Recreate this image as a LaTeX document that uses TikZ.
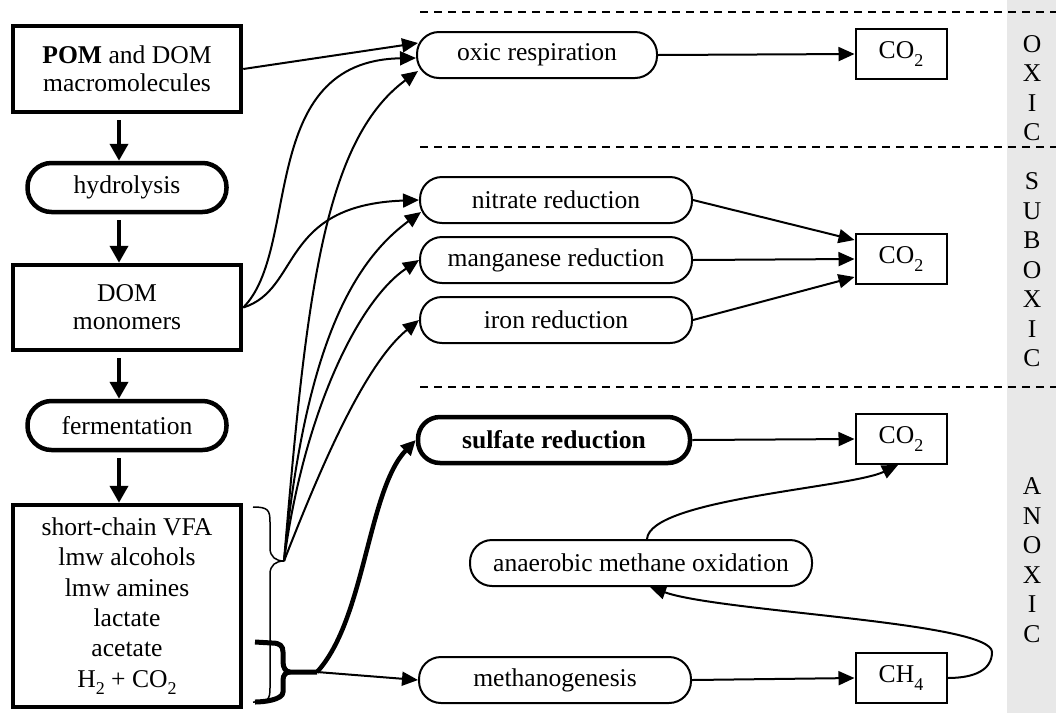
\documentclass[tikz,border=0pt]{standalone}
\usepackage{fontspec}
\setmainfont{Liberation Serif}
\usetikzlibrary{arrows.meta,calc}
\definecolor{bandgray}{HTML}{E8E8E8}
\newcommand{\lowsub}[1]{\raisebox{-0.28em}{\fontsize{18}{18}\selectfont #1}}

\begin{document}
\begin{tikzpicture}[
      x=1pt, y=-1pt,
      font=\fontsize{25.6}{28}\selectfont,
      pbox/.style={
        draw,
        line width=4.5pt,
        align=center,
        inner sep=0pt,
        minimum width=228pt
      },
      pproc/.style={
        draw,
        line width=4.5pt,
        rounded corners=24pt,
        inner sep=0pt,
        minimum width=199pt,
        minimum height=49pt
      },
      rproc/.style={
        draw,
        line width=2pt,
        rounded corners=22pt,
        inner sep=0pt,
        minimum width=272pt,
        minimum height=46pt
      },
      gas/.style={
        draw,
        line width=2pt,
        inner sep=0pt,
        minimum width=91pt,
        minimum height=50pt
      },
      zonelbl/.style={
        align=center,
        inner sep=0pt,
        font=\fontsize{25.6}{29.5}\selectfont
      },
      zoneline/.style={
        line width=1.5pt,
        dash pattern=on 8pt off 6pt
      },
      arr/.style={
        -{Triangle[length=16pt,width=14pt]},
        line width=2pt
      },
      bigarr/.style={
        -{Triangle[length=17pt,width=18pt]},
        line width=4pt,
        shorten <=6pt
      },
      sularr/.style={
        -{Triangle[length=15pt,width=14pt]},
        line width=4.5pt
      }
    ]

    \useasboundingbox (0,0) rectangle (1056,713);

    % redox zones
    \fill[bandgray] (1007,0) rectangle (1056,713);
    \draw[zoneline] (420,12) -- (1056,12);
    \draw[zoneline] (420,147) -- (1056,147);
    \draw[zoneline] (420,387) -- (1056,387);

    \node[zonelbl] (oxiclbl) at (1032,88) {O\\X\\I\\C};
    \node[zonelbl] (suboxlbl) at (1032,270) {S\\U\\B\\O\\X\\I\\C};
    \node[zonelbl] (anoxlbl) at (1032,560) {A\\N\\O\\X\\I\\C};

    % degradation chain
    \node[pbox, minimum height=86pt] (pom) at (127,69)
      {\textbf{POM} and DOM\\macromolecules};

    \node[pproc] (hydro) at (127,187.5) {hydrolysis};

    \node[pbox, minimum height=85pt] (dom) at (127,307.5)
      {DOM\\monomers};

    \node[pproc] (ferm) at (127,425.5) {fermentation};

    \node[pbox, minimum height=202pt,
          font=\fontsize{25.6}{30.4}\selectfont] (prod) at (127,606)
      {short-chain VFA\\lmw alcohols\\lmw amines\\lactate\\acetate\\
       H\lowsub{2} + CO\lowsub{2}};

    \foreach \a/\b in {pom/hydro, hydro/dom, dom/ferm, ferm/prod}
      \draw[bigarr] ([xshift=-8pt]\a.south) -- ([xshift=-8pt]\b.north);

    % terminal processes
    \node[rproc, minimum width=240pt] (oxic) at (537,55) {oxic respiration};
    \node[gas] (co2a) at (901,54) {CO\lowsub{2}};

    \node[rproc] (nitr) at (556,200) {nitrate reduction};
    \node[rproc] (mang) at (556,260) {manganese reduction};
    \node[rproc] (iron) at (556,320) {iron reduction};
    \node[gas] (co2b) at (901,259) {CO\lowsub{2}};

    \node[rproc, line width=4.5pt] (sulf) at (554,440)
      {\textbf{sulfate reduction}};
    \node[gas] (co2c) at (901,439) {CO\lowsub{2}};

    \node[rproc, minimum width=342pt] (anmo) at (641,563)
      {anaerobic methane oxidation};

    \node[rproc] (meth) at (555,680) {methanogenesis};
    \node[gas] (ch4) at (901,678) {CH\lowsub{4}};

    % braces
    \coordinate (fan) at (284,561);
    \coordinate (knot) at (317,672);

    \draw[line width=1.5pt]
      (253,507) .. controls +(15,0) and +(0,-12) .. (270,522)
      -- (270,548) .. controls +(0,9) and +(-8,0) .. (fan)
      .. controls +(-8,0) and +(0,-9) .. (270,574)
      -- (270,688) .. controls +(0,12) and +(15,0) .. (253,702);

    \draw[line width=5pt]
      (255,642) -- (272,643) .. controls +(8,0) and +(0,-6) .. (283,652)
      -- (283,662) .. controls +(0,6) and +(-4,0) .. (290,672) -- (knot);
    \draw[line width=5pt]
      (290,672) .. controls +(-4,0) and +(0,-5) .. (283,680)
      -- (283,692) .. controls +(0,8) and +(8,0) .. (255,702);

    % substrates to respiration
    \draw[arr] (pom.east) -- ([xshift=2pt,yshift=12pt]oxic.west);
    \draw[arr] (dom.east) .. controls +(58,-58) and +(-160,3)
      .. ([yshift=-3pt]oxic.west);
    \draw[arr] (dom.east) .. controls +(58,-18) and +(-140,5) .. (nitr.west);

    \draw[arr] (fan) .. controls +(22,-262) and +(-95,70)
      .. ([xshift=2pt,yshift=-16pt]oxic.west);
    \draw[arr] (fan) .. controls +(20,-200) and +(-75,55)
      .. ([xshift=2pt,yshift=-12pt]nitr.west);
    \draw[arr] (fan) .. controls +(20,-150) and +(-60,40) .. (mang.west);
    \draw[arr] (fan) .. controls +(36,-92) and +(-55,45) .. (iron.west);

    \draw[sularr] (knot) .. controls +(48,-52) and +(-48,50) .. (sulf.west);
    \draw[arr] (knot) -- (meth.west);

    % products
    \draw[arr] (oxic.east) -- (co2a.west);
    \draw[arr] (nitr.east) -- ([yshift=19pt]co2b.west);
    \draw[arr] (mang.east) -- (co2b.west);
    \draw[arr] (iron.east) -- ([yshift=-18pt]co2b.west);
    \draw[arr] (sulf.east) -- (co2c.west);
    \draw[arr] (meth.east) -- (ch4.west);

    \draw[arr] ([xshift=6pt]anmo.north) .. controls +(3,-40) and +(-48,23)
      .. ([xshift=-3pt]co2c.south);
    \draw[arr] (ch4.east) .. controls +(27,0) and +(0,18) .. (992,652)
      .. controls +(0,-30) and +(70,25) .. ([xshift=9pt]anmo.south);

  \end{tikzpicture}
\end{document}
